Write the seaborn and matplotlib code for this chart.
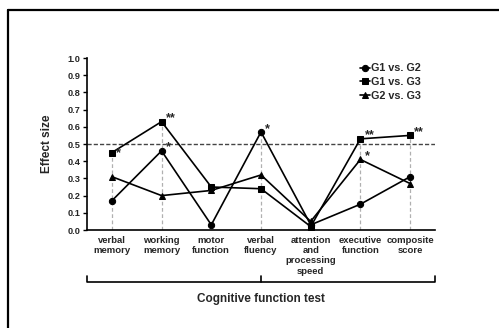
import matplotlib
matplotlib.use("Agg")
import matplotlib.pyplot as plt
import matplotlib.transforms as mtransforms
import seaborn as sns
import pandas as pd
import numpy as np

categories = ["verbal\nmemory", "working\nmemory", "motor\nfunction", "verbal\nfluency",
              "attention\nand\nprocessing\nspeed", "executive\nfunction", "composite\nscore"]
series_names = ["G1 vs. G2", "G1 vs. G3", "G2 vs. G3"]
g1_g2 = [0.17, 0.46, 0.03, 0.57, 0.03, 0.15, 0.31]
g1_g3 = [0.45, 0.63, 0.25, 0.24, 0.02, 0.53, 0.55]
g2_g3 = [0.31, 0.20, 0.23, 0.32, 0.05, 0.41, 0.27]
sig_g1_g2 = ["", "*", "", "*", "", "", ""]
sig_g1_g3 = ["*", "**", "", "", "", "**", "**"]
sig_g2_g3 = ["", "", "", "", "", "*", ""]
y_ticks = [0.0, 0.1, 0.2, 0.3, 0.4, 0.5, 0.6, 0.7, 0.8, 0.9, 1.0]
threshold = 0.5

sns.set_style("white")
plt.rcParams["font.family"] = ["Liberation Sans", "DejaVu Sans"]
plt.rcParams["font.weight"] = "bold"

values = [g1_g2, g1_g3, g2_g3]
sigs = [sig_g1_g2, sig_g1_g3, sig_g2_g3]
rows = []
for name, vals in zip(series_names, values):
    for c, v in zip(categories, vals):
        rows.append({"test": c, "value": v, "comparison": name})
df = pd.DataFrame(rows)

fig = plt.figure(figsize=(4.99, 3.28), dpi=100)
ax = fig.add_axes([87 / 499, 1 - 230 / 328, (435 - 87) / 499, (230 - 58) / 328])

# vertical gray dashed lines to significant points
for i in range(len(categories)):
    tops = [vals[i] for vals, s in zip(values, sigs) if s[i]]
    if tops:
        ax.vlines(i, 0, max(tops), colors="#b0b0b0", linestyles=(0, (3, 2)), linewidth=0.9, zorder=1)

ax.axhline(threshold, color="#444444", linestyle=(0, (3, 1.5)), linewidth=1.0, zorder=1)

sns.lineplot(data=df, x="test", y="value", hue="comparison", style="comparison",
             markers=["o", "s", "^"], dashes=False, palette=["black"] * 3,
             markersize=4.5, linewidth=1.2, sort=False, ax=ax, zorder=3,
             markeredgecolor="black")

# significance asterisks
for vals, s in zip(values, sigs):
    for i, (v, lab) in enumerate(zip(vals, s)):
        if lab:
            dy = -5 if (lab == "*" and vals is g1_g3) else -2
            ax.annotate(lab, (i, v), xytext=(3, dy),
                        textcoords="offset points", ha="left", va="bottom",
                        fontsize=9, fontweight="bold", zorder=4)

ax.set_xlim(-0.5, len(categories) - 0.5)
ax.set_ylim(0, 1.0)
ax.set_yticks(y_ticks)
ax.set_yticklabels([f"{t:.1f}" for t in y_ticks], fontsize=6.6, fontweight="bold")
ax.set_xticks(range(len(categories)))
ax.set_xticklabels(categories, fontsize=6.8, fontweight="bold", linespacing=1.2)
ax.set_xticks(np.arange(-0.5, len(categories), 1.0), minor=True)
ax.tick_params(axis="x", which="major", length=0, pad=4)
ax.tick_params(axis="x", which="minor", length=3, width=1, direction="out", color="black")
ax.tick_params(axis="y", length=3, width=1, direction="out", color="black", pad=2, left=True)
for sp in ["top", "right"]:
    ax.spines[sp].set_visible(False)
for sp in ["left", "bottom"]:
    ax.spines[sp].set_color("black")
    ax.spines[sp].set_linewidth(1.2)
ax.set_xlabel("")
ax.set_ylabel("Effect size", fontsize=8.5, fontweight="bold", labelpad=10)

leg = ax.legend(loc="upper left", bbox_to_anchor=(355 / 499, 1 - 58 / 328),
                bbox_transform=fig.transFigure, frameon=False, fontsize=7.8,
                handlelength=0.9, handletextpad=0.1, labelspacing=0.35, borderpad=0)
for t in leg.get_texts():
    t.set_fontweight("bold")

# bracket below categories
trans = mtransforms.blended_transform_factory(ax.transData, fig.transFigure)
yb = 1 - 282 / 328
yt = 1 - 276 / 328
ax.plot([-0.5, -0.5, 6.5, 6.5], [yt, yb, yb, yt], color="black", linewidth=1.2,
        transform=trans, clip_on=False)
ax.plot([3.0, 3.0], [yb, yt], color="black", linewidth=1.2, transform=trans, clip_on=False)
ax.text(3.0, 1 - 299 / 328, "Cognitive function test", transform=trans, ha="center",
        va="center", fontsize=8.5, fontweight="bold")

# outer frame (top and left edges)
fig.add_artist(plt.Line2D([8 / 499, 8 / 499], [0, 1 - 10 / 328], color="black", linewidth=1.6,
                          transform=fig.transFigure))
fig.add_artist(plt.Line2D([8 / 499, 1], [1 - 10 / 328, 1 - 10 / 328], color="black", linewidth=1.6,
                          transform=fig.transFigure))

fig.savefig("out.png", dpi=100)
